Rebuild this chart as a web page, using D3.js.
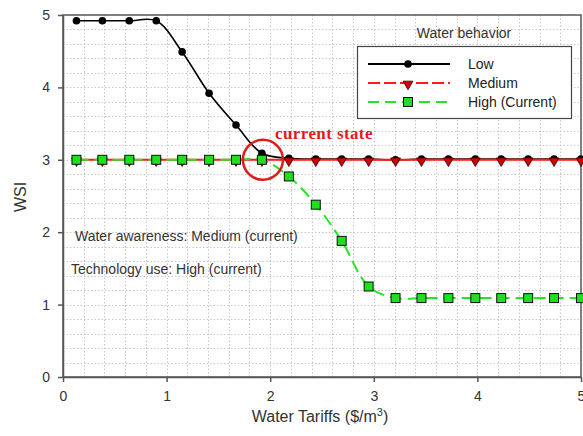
<!DOCTYPE html>
<html>
<head>
<meta charset="utf-8">
<script src="https://cdn.jsdelivr.net/npm/d3@7"></script>
<style>
  html, body { margin: 0; padding: 0; background: #fff; }
  svg { display: block; font-family: "Liberation Sans", Arial, sans-serif; }
</style>
</head>
<body>
<svg id="chart" width="583" height="436"></svg>
<script>
// Water tariff levels ($/m3) at which WSI was simulated
const tariffs = [0.13, 0.38, 0.64, 0.90, 1.15, 1.41, 1.67, 1.92, 2.18, 2.44,
                 2.69, 2.95, 3.21, 3.46, 3.72, 3.98, 4.23, 4.49, 4.74, 5.00];

// WSI per water-behaviour scenario
const wsiLow    = [4.92, 4.92, 4.92, 4.92, 4.49, 3.92, 3.48, 3.09, 3.02, 3.01,
                   3.01, 3.01, 3.00, 3.01, 3.01, 3.01, 3.01, 3.01, 3.01, 3.01];
const wsiMedium = [3.00, 3.00, 3.00, 3.00, 3.00, 3.00, 3.00, 3.00, 3.00, 3.00,
                   3.00, 3.00, 3.00, 3.00, 3.00, 3.00, 3.00, 3.00, 3.00, 3.00];
const wsiHigh   = [3.00, 3.00, 3.00, 3.00, 3.00, 3.00, 3.00, 3.00, 2.77, 2.38,
                   1.88, 1.25, 1.09, 1.09, 1.09, 1.09, 1.09, 1.09, 1.09, 1.09];

const seriesNames = ["Low", "Medium", "High (Current)"];
const xTicks = [0, 1, 2, 3, 4, 5];
const yTicks = [0, 1, 2, 3, 4, 5];
const currentTariff = 1.92;
const currentWsi = 3.0;

const svg = d3.select("#chart");
const x = d3.scaleLinear().domain([0, 5]).range([63, 581]);
const y = d3.scaleLinear().domain([0, 5]).range([377, 15]);

// dotted grid every 0.2
const gridVals = d3.range(1, 25).map(i => i * 0.2);
const grid = svg.append("g").attr("stroke", "#c8c8c8").attr("stroke-width", 1)
  .attr("stroke-dasharray", "1.5,2");
grid.selectAll("line.v").data(gridVals).join("line").attr("class", "v")
  .attr("x1", d => Math.round(x(d)) + 0.5).attr("x2", d => Math.round(x(d)) + 0.5)
  .attr("y1", y(5)).attr("y2", y(0));
grid.selectAll("line.h").data(gridVals).join("line").attr("class", "h")
  .attr("y1", d => Math.round(y(d)) + 0.5).attr("y2", d => Math.round(y(d)) + 0.5)
  .attr("x1", x(0)).attr("x2", x(5));

// frame
svg.append("rect").attr("x", x(0)).attr("y", y(5))
  .attr("width", x(5) - x(0)).attr("height", y(0) - y(5))
  .attr("fill", "none").attr("stroke", "#555").attr("stroke-width", 1.5);

// axes
const axisX = svg.append("g").attr("transform", `translate(0,${y(0)})`)
  .call(d3.axisBottom(x).tickValues(xTicks).tickFormat(d3.format("d"))
    .tickSizeInner(5).tickSizeOuter(0).tickPadding(9));
const axisY = svg.append("g").attr("transform", `translate(${x(0)},0)`)
  .call(d3.axisLeft(y).tickValues(yTicks).tickFormat(d3.format("d"))
    .tickSizeInner(5).tickSizeOuter(0).tickPadding(8));
[axisX, axisY].forEach(a => {
  a.select(".domain").attr("stroke", "#555").attr("stroke-width", 1.5);
  a.selectAll(".tick line").attr("stroke", "#555").attr("stroke-width", 1.5);
  a.selectAll(".tick text").attr("fill", "#333")
    .style("font-family", "'Liberation Sans', Arial, sans-serif").style("font-size", "14px");
});

// axis titles
const xTitle = svg.append("text").attr("x", 320).attr("y", 422)
  .attr("text-anchor", "middle").attr("fill", "#333").style("font-size", "16px");
xTitle.append("tspan").text("Water Tariffs ($/m");
xTitle.append("tspan").attr("dy", -6).style("font-size", "11px").text("3");
xTitle.append("tspan").attr("dy", 6).text(")");

svg.append("text").attr("transform", "translate(26,197) rotate(-90)")
  .attr("text-anchor", "middle").attr("fill", "#333").style("font-size", "16px").text("WSI");

// series
const pts = vals => tariffs.map((t, i) => [t, vals[i]]);
const line = d3.line().x(d => x(d[0])).y(d => y(d[1])).curve(d3.curveCatmullRom);

const lowData = pts(wsiLow), medData = pts(wsiMedium), highData = pts(wsiHigh);

svg.append("path").datum(lowData).attr("d", line)
  .attr("fill", "none").attr("stroke", "#000").attr("stroke-width", 1.6);
svg.append("g").selectAll("circle").data(lowData).join("circle")
  .attr("cx", d => x(d[0])).attr("cy", d => y(d[1])).attr("r", 3.8).attr("fill", "#000");

svg.append("path").datum(medData).attr("d", line)
  .attr("fill", "none").attr("stroke", "#ff1a1a").attr("stroke-width", 2);
const tri = d3.symbol().type(d3.symbolTriangle).size(42);
svg.append("g").selectAll("path").data(medData).join("path")
  .attr("d", tri).attr("transform", d => `translate(${x(d[0])},${y(d[1]) + 1}) rotate(180)`)
  .attr("fill", "#d40000").attr("stroke", "#300").attr("stroke-width", 0.8);

svg.append("path").datum(highData).attr("d", line)
  .attr("fill", "none").attr("stroke", "#22e622").attr("stroke-width", 2)
  .attr("stroke-dasharray", "12,6");
svg.append("g").selectAll("rect").data(highData).join("rect")
  .attr("x", d => x(d[0]) - 4.5).attr("y", d => y(d[1]) - 4.5)
  .attr("width", 9).attr("height", 9)
  .attr("fill", "#1ee01e").attr("stroke", "#111").attr("stroke-width", 1);

// current state marker
svg.append("circle").attr("cx", x(currentTariff) + 1).attr("cy", y(currentWsi))
  .attr("r", 20).attr("fill", "none").attr("stroke", "#e01b1b").attr("stroke-width", 2.5);
svg.append("text").attr("x", 275).attr("y", 139)
  .attr("fill", "#e01b1b").style("font-family", "'Liberation Serif', 'DejaVu Serif', serif")
  .style("font-size", "17px").style("font-weight", "bold").style("letter-spacing", "0.4px")
  .text("current state");

// scenario notes
svg.append("text").attr("x", 75).attr("y", 241).attr("fill", "#333")
  .style("font-size", "14px").text("Water awareness: Medium (current)");
svg.append("text").attr("x", 71).attr("y", 274).attr("fill", "#333")
  .style("font-size", "14px").text("Technology use: High (current)");

// legend
svg.append("text").attr("x", 464).attr("y", 38).attr("text-anchor", "middle")
  .attr("fill", "#333").style("font-size", "14px").text("Water behavior");
svg.append("rect").attr("x", 357.5).attr("y", 46.5).attr("width", 214).attr("height", 72)
  .attr("fill", "#fff").attr("stroke", "#444").attr("stroke-width", 1.2);

const legendRows = [64, 83, 102];
const lg = svg.append("g");
// Low
lg.append("line").attr("x1", 368).attr("x2", 450).attr("y1", legendRows[0]).attr("y2", legendRows[0])
  .attr("stroke", "#000").attr("stroke-width", 1.8);
lg.append("circle").attr("cx", 408).attr("cy", legendRows[0]).attr("r", 3.8).attr("fill", "#000");
// Medium
lg.append("line").attr("x1", 368).attr("x2", 450).attr("y1", legendRows[1]).attr("y2", legendRows[1])
  .attr("stroke", "#ff1a1a").attr("stroke-width", 2).attr("stroke-dasharray", "12,4");
lg.append("path").attr("d", tri).attr("transform", `translate(408,${legendRows[1] + 1}) rotate(180)`)
  .attr("fill", "#d40000").attr("stroke", "#300").attr("stroke-width", 0.8);
// High
lg.append("line").attr("x1", 368).attr("x2", 450).attr("y1", legendRows[2]).attr("y2", legendRows[2])
  .attr("stroke", "#22e622").attr("stroke-width", 2).attr("stroke-dasharray", "11,6");
lg.append("rect").attr("x", 403.5).attr("y", legendRows[2] - 4.5).attr("width", 9).attr("height", 9)
  .attr("fill", "#1ee01e").attr("stroke", "#111").attr("stroke-width", 1);

lg.selectAll("text").data(seriesNames).join("text")
  .attr("x", 468).attr("y", (d, i) => legendRows[i] + 5)
  .attr("fill", "#222").style("font-size", "14px").text(d => d);
</script>
</body>
</html>
